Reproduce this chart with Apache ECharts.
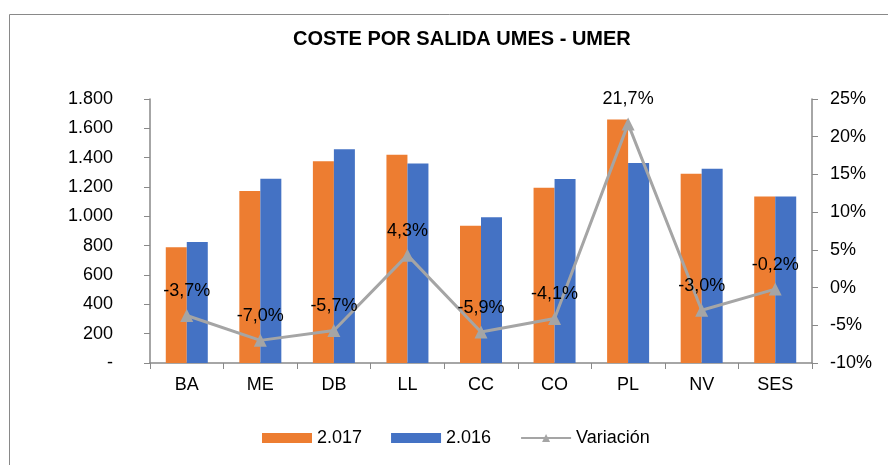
<!DOCTYPE html>
<html>
<head>
<meta charset="utf-8">
<script src="https://cdn.jsdelivr.net/npm/echarts@6/dist/echarts.min.js"></script>
<style>
  html, body { margin: 0; padding: 0; background: #fff; }
  #chart { width: 888px; height: 465px; }
</style>
</head>
<body>
<div id="chart"></div>
<script>
// data
const categories = ["BA", "ME", "DB", "LL", "CC", "CO", "PL", "NV", "SES"];
const coste2017 = [790, 1172, 1375, 1420, 935, 1195, 1660, 1290, 1135];
const coste2016 = [825, 1256, 1457, 1361, 994, 1254, 1364, 1325, 1135];
const variacion = [-3.7, -7.0, -5.7, 4.3, -5.9, -4.1, 21.7, -3.0, -0.2];

const axisColor = "#898989";
const font = "Liberation Sans";

function miles(v) {
  if (v === 0) return "-";
  return String(v).replace(/\B(?=(\d{3})+(?!\d))/g, ".");
}

const chart = echarts.init(document.getElementById("chart"));

const option = {
  animation: false,
  textStyle: { fontFamily: font, color: "#000" },
  graphic: [
    {
      type: "rect",
      left: 7,
      top: 12,
      shape: { width: 900, height: 500 },
      style: { fill: "none", stroke: axisColor, lineWidth: 1 },
      silent: true,
    },
  ],
  title: {
    text: "COSTE POR SALIDA UMES - UMER",
    left: 288,
    top: 24,
    textStyle: { fontFamily: font, fontSize: 20, fontWeight: "bold", color: "#000" },
  },
  grid: { left: 150, right: 76, top: 99, bottom: 102 },
  legend: {
    bottom: 13,
    left: 257,
    itemWidth: 50,
    itemHeight: 10,
    itemGap: 29,
    textStyle: { fontFamily: font, fontSize: 18, color: "#000" },
    data: [
      { name: "2.017", icon: "rect" },
      { name: "2.016", icon: "rect" },
      { name: "Variación" },
    ],
  },
  xAxis: {
    type: "category",
    data: categories,
    axisLine: { lineStyle: { color: axisColor, width: 1.5 } },
    axisTick: { show: true, length: 6, lineStyle: { color: axisColor } },
    axisLabel: { fontFamily: font, fontSize: 18, color: "#000", margin: 13 },
  },
  yAxis: [
    {
      type: "value",
      min: 0,
      max: 1800,
      interval: 200,
      splitLine: { show: false },
      axisLine: { show: true, lineStyle: { color: axisColor, width: 1.5 } },
      axisTick: { show: true, length: 6, lineStyle: { color: axisColor } },
      axisLabel: {
        fontFamily: font,
        fontSize: 18,
        color: "#000",
        margin: 37,
        formatter: miles,
      },
    },
    {
      type: "value",
      min: -10,
      max: 25,
      interval: 5,
      splitLine: { show: false },
      axisLine: { show: true, lineStyle: { color: axisColor, width: 1.5 } },
      axisTick: { show: true, length: 6, lineStyle: { color: axisColor } },
      axisLabel: {
        fontFamily: font,
        fontSize: 18,
        color: "#000",
        margin: 18,
        formatter: (v) => v + "%",
      },
    },
  ],
  series: [
    {
      name: "2.017",
      type: "bar",
      data: coste2017,
      barWidth: 21,
      barGap: "0%",
      itemStyle: { color: "#ED7D31" },
    },
    {
      name: "2.016",
      type: "bar",
      data: coste2016,
      barWidth: 21,
      itemStyle: { color: "#4472C4" },
    },
    {
      name: "Variación",
      type: "line",
      yAxisIndex: 1,
      data: variacion,
      symbol: "triangle",
      symbolSize: 13,
      lineStyle: { color: "#A5A5A5", width: 3 },
      itemStyle: { color: "#A5A5A5" },
      label: {
        show: true,
        position: "top",
        distance: 9,
        fontFamily: font,
        fontSize: 18,
        color: "#000",
        formatter: (p) => p.value.toFixed(1).replace(".", ",") + "%",
      },
      z: 5,
    },
  ],
};

chart.setOption(option);
</script>
</body>
</html>
